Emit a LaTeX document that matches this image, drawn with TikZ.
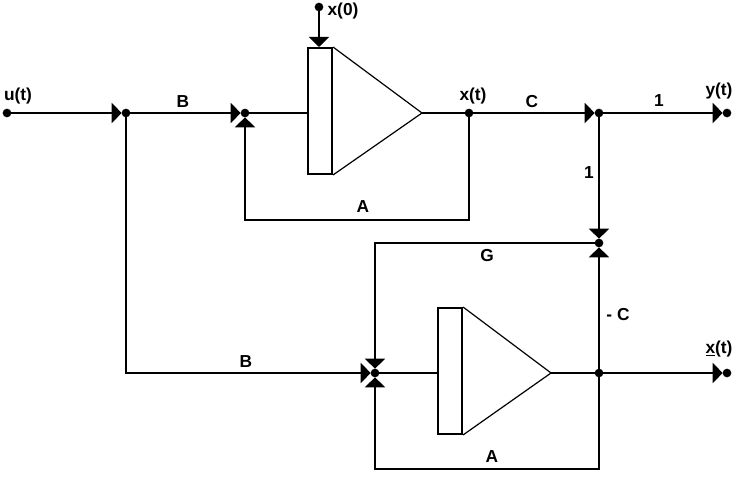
\documentclass[tikz,border=0pt]{standalone}
\usepackage{fontspec}
\setmainfont{Liberation Sans}
\usepackage{tikz}
\usetikzlibrary{arrows.meta, positioning}
\tikzset{
  dot/.style={circle, fill=black, inner sep=0pt, outer sep=0pt, minimum size=6.5pt},
  bar/.style={rectangle, draw, line width=1.5pt, minimum width=18pt, minimum height=94.5pt, inner sep=0pt},
  wire/.style={line width=1.5pt},
  flow/.style={line width=1.5pt, -{Triangle[length=7.5pt,width=15pt]}},
  amp/.style={line width=0.9pt, line join=miter},
  tag/.style={font=\bfseries\fontsize{13pt}{15pt}\selectfont, inner sep=0pt}
}
\begin{document}
\begin{tikzpicture}[x=0.75pt, y=-0.75pt]
\useasboundingbox (0,0) rectangle (739,478);
% junctions
\node (ut) [dot] at (7,113) {};
\node (j1) [dot] at (126,113) {};
\node (j2) [dot] at (245,113) {};
\node (x0) [dot] at (319,7) {};
\node (xt) [dot] at (469,113) {};
\node (j3) [dot] at (599,113) {};
\node (yt) [dot] at (727,113) {};
\node (j4) [dot] at (599,243) {};
\node (j5) [dot] at (375,373) {};
\node (j6) [dot] at (599,373) {};
\node (xe) [dot] at (727,373) {};
% upper integrator
\node (bar1) [bar] at (320,111) {};
\coordinate (tip1) at (422,113);
\draw [amp] (bar1.north east) -- (tip1) -- (bar1.south east);
% lower integrator
\node (bar2) [bar] at (450,371) {};
\coordinate (tip2) at (551,373);
\draw [amp] (bar2.north east) -- (tip2) -- (bar2.south east);
% corners
\coordinate (c1) at (245,220);
\coordinate (c2) at (375,243);
\coordinate (c3) at (599,469);
\coordinate (c4) at (375,469);
\coordinate (c5) at (126,373);
% connectors
\draw [flow] (ut) -- (j1);
\draw [flow] (j1) -- (j2);
\draw [flow] (x0) -- (bar1.north -| x0);
\draw [wire] (j2) -- (j2 -| bar1.west);
\draw [wire] (tip1) -- (xt);
\draw [flow] (xt) |- (c1) -- (j2);
\draw [flow] (xt) -- (j3);
\draw [flow] (j3) -- (yt);
\draw [flow] (j3) -- (j4);
\draw [flow] (j6) -- (j4);
\draw [flow] (j4) -- (c2) -- (j5);
\draw [flow] (j1) -- (c5) -- (j5);
\draw [wire] (j5) -- (j5 -| bar2.west);
\draw [wire] (tip2) -- (j6);
\draw [flow] (j6) -- (xe);
\draw [flow] (j6) -- (c3) -- (c4) -- (j5);
% labels
\node (lu) [tag] at (18,96) {u(t)};
\node (lb1) [tag] at (183,102) {B};
\node (lx0) [tag] at (343,11) {x(0)};
\node (lxt) [tag] at (473,96) {x(t)};
\node (lc1) [tag] at (532,102) {C};
\node (lg1) [tag] at (659,101) {1};
\node (ly) [tag] at (719,91) {y(t)};
\node (lg2) [tag] at (589,173) {1};
\node (la1) [tag] at (363,207) {A};
\node (lg) [tag] at (487,256) {G};
\node (lc2) [tag] at (618,315) {- C};
\node (lb2) [tag] at (246,362) {B};
\node (lxe) [tag] at (719,349) {\underline{x}(t)};
\node (la2) [tag] at (492,457) {A};
\end{tikzpicture}
\end{document}
